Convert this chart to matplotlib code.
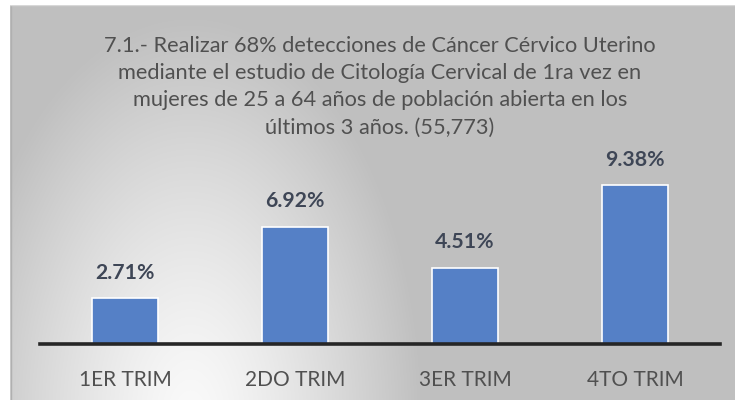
import numpy as np
import matplotlib.pyplot as plt

categorias = ["1ER TRIM", "2DO TRIM", "3ER TRIM", "4TO TRIM"]
porcentajes = [2.71, 6.92, 4.51, 9.38]
etiquetas = ["2.71%", "6.92%", "4.51%", "9.38%"]
titulo = ("7.1.- Realizar 68% detecciones de Cáncer Cérvico Uterino\n"
          "mediante el estudio de Citología Cervical de 1ra vez en\n"
          "mujeres de 25 a 64 años de población abierta en los\n"
          "últimos 3 años. (55,773)")

plt.rcParams['font.family'] = ['Lato', 'DejaVu Sans']

W, H = 735, 400
fig = plt.figure(figsize=(W / 100, H / 100), dpi=100)
fig.patch.set_facecolor("white")

# fondo con degradado (claro abajo a la izquierda, gris a la derecha/arriba)
x0, y0 = 10, 5
fondo = fig.add_axes([x0 / W, 0, 1 - x0 / W, 1 - y0 / H])
xx, yy = np.meshgrid(np.arange(x0, W), np.arange(y0, H))
d = np.sqrt(((xx - 190) / 230.0) ** 2 + ((yy - 420) / 400.0) ** 2)
t = np.clip(d, 0, 1) ** 1.3
gris = 192 + (250 - 192) * (1 - t)
img = np.dstack([gris, gris, gris]) / 255.0
fondo.imshow(img, aspect="auto", extent=[0, 1, 0, 1], origin="upper")
fondo.set_xlim(0, 1)
fondo.set_ylim(0, 1)
fondo.axis("off")
fondo.plot([0.001, 0.001], [0, 1], color="#b0b0b0", lw=1)
fondo.plot([0, 1], [0.999, 0.999], color="#d8d8d8", lw=1)

# ejes de la grafica
base_px, top_px = 344, 150
ax = fig.add_axes([40 / W, 1 - base_px / H, 680 / W, (base_px - top_px) / H])
ax.patch.set_alpha(0)
ymax = (base_px - top_px) / 16.95
ax.set_ylim(0, ymax)
ax.set_xlim(-0.5, 3.5)

x = np.arange(len(categorias))
ax.bar(x, porcentajes, width=0.39, color="#5580c6", edgecolor="white", linewidth=1.2, zorder=2)
for xi, v, lab in zip(x, porcentajes, etiquetas):
    ax.annotate(lab, (xi, v), xytext=(0, 11), textcoords="offset points",
                ha="center", va="bottom", fontsize=15.3, fontweight="bold", color="#3e4656")

for s in ["top", "right", "left"]:
    ax.spines[s].set_visible(False)
ax.spines["bottom"].set_linewidth(2.6)
ax.spines["bottom"].set_color("#262626")
ax.set_yticks([])
ax.set_xticks(x)
ax.set_xticklabels(categorias, fontsize=15, color="#505050")
ax.tick_params(axis="x", length=0, pad=19)

fig.text(380 / W, 1 - 36 / H, titulo, ha="center", va="top", fontsize=15.7,
         color="#505050", linespacing=1.45)

fig.savefig("out.png", dpi=100)
